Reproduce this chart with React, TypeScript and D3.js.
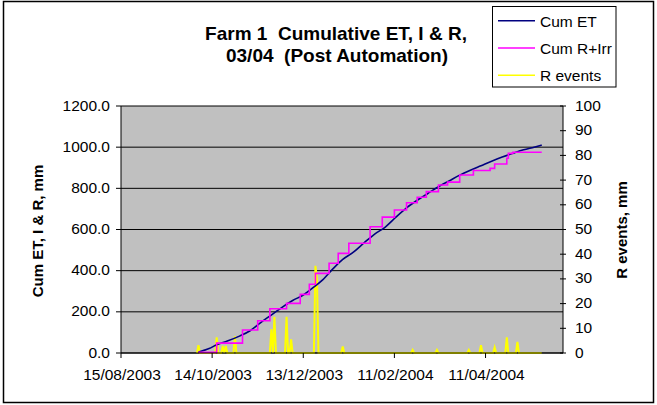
import React from "react";
import * as d3 from "d3";

// ---- data ----
const startDateStr = "15/08/2003";
const endDateStr = "01/06/2004";
const xTickLabels = ["15/08/2003", "14/10/2003", "13/12/2003", "11/02/2004", "11/04/2004"];
const leftTicks = [0, 200, 400, 600, 800, 1000, 1200];
const rightTicks = [0, 10, 20, 30, 40, 50, 60, 70, 80, 90, 100];

// Cum ET (days after 15/08/2003, mm)
const etDays = [51, 58, 63, 70, 78, 85, 92, 100, 106, 113, 120, 126, 132, 139, 146, 153, 160, 167, 174, 181, 188, 195, 202, 209, 216, 223, 230, 237, 244, 251, 258, 265, 272, 277];
const etValues = [5, 22, 40, 58, 82, 108, 148, 190, 222, 255, 282, 315, 350, 405, 455, 490, 535, 578, 612, 660, 705, 742, 775, 808, 836, 864, 888, 910, 932, 952, 970, 987, 1000, 1010];

// Cum R+Irr step breakpoints (days after 15/08/2003, mm)
const rirDays = [51, 63, 80, 90, 98, 109, 118, 124, 128, 137, 143, 150, 164, 172, 180, 188, 195, 201, 209, 215, 223, 232, 243, 246, 254, 255, 258, 277];
const rirValues = [3, 48, 112, 157, 215, 241, 285, 334, 387, 436, 484, 533, 613, 660, 695, 730, 757, 784, 816, 830, 865, 887, 897, 918, 946, 970, 975, 975];

// Rain events (days after 15/08/2003, mm)
const rainDays = [51, 63, 67, 69, 75, 99, 101, 109, 112, 128, 129, 146, 192, 208, 229, 237, 246, 254, 261];
const rainValues = [3.2, 6.3, 2.8, 2.8, 6.7, 9.6, 14.7, 14.7, 5.5, 35.3, 30, 2.6, 1.2, 1.2, 1.2, 3.2, 2.3, 6.3, 4.5];
const rainFirstDay = 50;
const rainLastDay = 277;

const seriesNames = ["Cum ET", "Cum R+Irr", "R events"];
const seriesColors = ["#000080", "#FF00FF", "#FFFF00"];

export default function App() {
  const W = 657, H = 405;
  const pL = 121, pR = 563, pT = 106, pB = 353;
  const parse = d3.timeParse("%d/%m/%Y");
  const fmt = d3.timeFormat("%d/%m/%Y");
  const start = parse(startDateStr)!;
  const end = parse(endDateStr)!;
  const dayDate = (d: number) => d3.timeDay.offset(start, d);

  const x = d3.scaleTime().domain([start, end]).range([pL, pR]);
  const yL = d3.scaleLinear().domain([0, 1200]).range([pB, pT]);
  const yR = d3.scaleLinear().domain([0, 100]).range([pB, pT]);

  const etData = etDays.map((d, i) => ({ date: dayDate(d), v: etValues[i] }));
  const rirData = rirDays.map((d, i) => ({ date: dayDate(d), v: rirValues[i] }));
  const rainMap = new Map(rainDays.map((d, i) => [d, rainValues[i]]));
  const rainData = d3.range(rainFirstDay, rainLastDay + 1).map((d) => ({ date: dayDate(d), v: rainMap.get(d) ?? 0 }));

  const etLine = d3.line<any>().x((d) => x(d.date)).y((d) => yL(d.v)).curve(d3.curveMonotoneX);
  const rirLine = d3.line<any>().x((d) => x(d.date)).y((d) => yL(d.v)).curve(d3.curveStepAfter);
  const rainLine = d3.line<any>().x((d) => x(d.date)).y((d) => yR(d.v));

  const xTicks = xTickLabels.map((s) => parse(s)!);
  const font = "'Liberation Sans', Arial, sans-serif";

  return (
    <svg width={W} height={H} style={{ position: "absolute", left: 0, top: 0, background: "#fff" }} fontFamily={font}>
      <rect x={3.5} y={1.5} width={650} height={401} fill="#fff" stroke="#000" strokeWidth={1.5} />
      {/* plot area */}
      <rect x={pL} y={pT} width={pR - pL} height={pB - pT} fill="#C0C0C0" />
      {leftTicks.map((t) => (
        <line key={"g" + t} x1={pL} x2={pR} y1={yL(t)} y2={yL(t)} stroke="#000" strokeWidth={1} />
      ))}
      {/* series */}
      <path d={rainLine(rainData) || ""} fill="none" stroke={seriesColors[2]} strokeWidth={2} />
      <path d={etLine(etData) || ""} fill="none" stroke={seriesColors[0]} strokeWidth={1.6} />
      <path d={rirLine(rirData) || ""} fill="none" stroke={seriesColors[1]} strokeWidth={1.6} />
      {/* axes */}
      <line x1={pL} x2={pL} y1={pT} y2={pB} stroke="#000" />
      <line x1={pR} x2={pR} y1={pT} y2={pB} stroke="#000" />
      <line x1={pL} x2={pR} y1={pB} y2={pB} stroke="#000" />
      {leftTicks.map((t) => (
        <g key={"l" + t}>
          <line x1={pL - 5} x2={pL} y1={yL(t)} y2={yL(t)} stroke="#000" />
          <text x={110} y={yL(t) + 4.5} textAnchor="end" fontSize={15.5}>{d3.format(".1f")(t)}</text>
        </g>
      ))}
      {rightTicks.map((t) => (
        <g key={"r" + t}>
          <line x1={pR - 3} x2={pR + 3} y1={yR(t)} y2={yR(t)} stroke="#000" />
          <text x={575} y={yR(t) + 4.5} textAnchor="start" fontSize={15.5}>{t}</text>
        </g>
      ))}
      {xTicks.map((t, i) => (
        <g key={"x" + i}>
          <line x1={x(t)} x2={x(t)} y1={pB} y2={pB + 5} stroke="#000" />
          <text x={x(t) + 1} y={379.5} textAnchor="middle" fontSize={15.5}>{fmt(t)}</text>
        </g>
      ))}
      {/* axis titles */}
      <text transform="translate(42.5,231) rotate(-90)" textAnchor="middle" fontSize={15} fontWeight="bold">Cum ET, I &amp; R, mm</text>
      <text transform="translate(627,230) rotate(-90)" textAnchor="middle" fontSize={15} fontWeight="bold">R events, mm</text>
      {/* title */}
      <text x={336} y={39.5} textAnchor="middle" fontSize={19} fontWeight="bold" style={{ whiteSpace: "pre" }}>Farm 1  Cumulative ET, I &amp; R,</text>
      <text x={337} y={62} textAnchor="middle" fontSize={19} fontWeight="bold" style={{ whiteSpace: "pre" }}>03/04  (Post Automation)</text>
      {/* legend */}
      <rect x={492.5} y={6.5} width={123.5} height={80.5} fill="#fff" stroke="#000" strokeWidth={1} />
      {seriesNames.map((n, i) => (
        <g key={n}>
          <line x1={498} x2={535} y1={20.7 + i * 27.3} y2={20.7 + i * 27.3} stroke={seriesColors[i]} strokeWidth={1.6} />
          <text x={540} y={26.5 + i * 27.3} fontSize={15.5}>{n}</text>
        </g>
      ))}
    </svg>
  );
}
